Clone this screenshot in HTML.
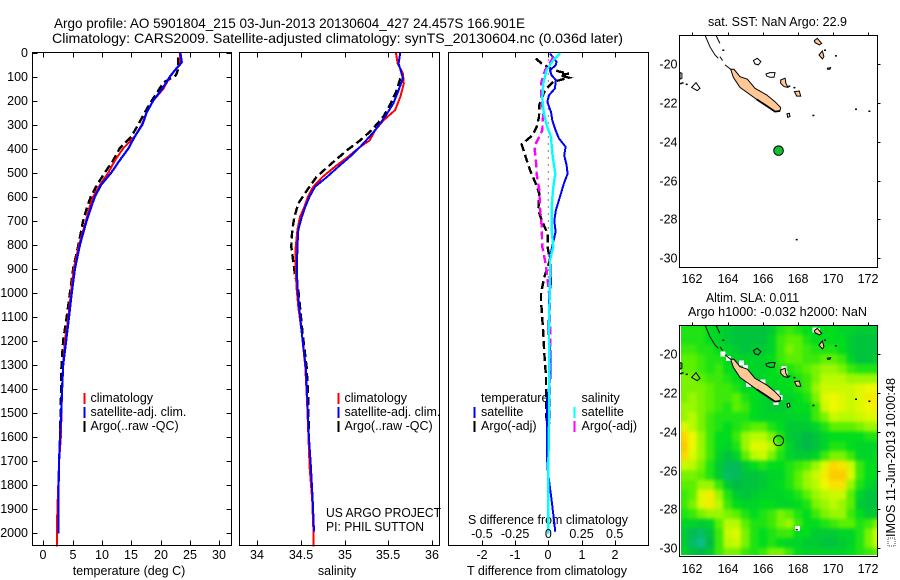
<!DOCTYPE html>
<html lang="en">
<head>
<meta charset="utf-8">
<title>Argo profile 5901804_215</title>
<style>
html,body{margin:0;padding:0;background:#fff;}
svg{display:block;}
text{font-family:"Liberation Sans",sans-serif;fill:#000;font-size:12.5px;}
</style>
</head>
<body>
<svg id="chart" xmlns="http://www.w3.org/2000/svg" width="900" height="580" viewBox="0 0 900 580">
<rect x="0" y="0" width="900" height="580" fill="#fff"/>
<defs>
<clipPath id="slaClip"><rect x="681" y="325" width="196.5" height="230"/></clipPath>
<filter id="slaBlur" x="-5%" y="-5%" width="110%" height="110%" color-interpolation-filters="sRGB"><feGaussianBlur stdDeviation="1.8"/></filter>
</defs>
<rect x="681" y="325" width="196.5" height="230" fill="#10dc28"/>
<text x="54" y="28" textLength="471" lengthAdjust="spacingAndGlyphs" style="font-size:14px">Argo profile: AO 5901804_215 03-Jun-2013 20130604_427 24.457S 166.901E</text>
<text x="52" y="43" textLength="571" lengthAdjust="spacingAndGlyphs" style="font-size:14px">Climatology: CARS2009. Satellite-adjusted climatology: synTS_20130604.nc (0.036d later)</text>
<text x="129" y="575" text-anchor="middle">temperature (deg C)</text>
<text x="337" y="575" text-anchor="middle">salinity</text>
<text x="467" y="575" textLength="160" lengthAdjust="spacingAndGlyphs">T difference from climatology</text>
<text x="468" y="524" textLength="160" lengthAdjust="spacingAndGlyphs">S difference from climatology</text>
<text x="326" y="517" textLength="115" lengthAdjust="spacingAndGlyphs">US ARGO PROJECT</text>
<text x="326" y="531" textLength="98" lengthAdjust="spacingAndGlyphs">PI: PHIL SUTTON</text>
<text x="708" y="26" textLength="139" lengthAdjust="spacingAndGlyphs">sat. SST: NaN Argo: 22.9</text>
<text x="706" y="302" textLength="93" lengthAdjust="spacingAndGlyphs">Altim. SLA: 0.011</text>
<text x="688" y="316" textLength="179" lengthAdjust="spacingAndGlyphs">Argo h1000: -0.032 h2000: NaN</text>
<rect x="888" y="538" width="7" height="8" fill="#fff" stroke="#444" stroke-width="1" stroke-dasharray="1 1"/>
<text transform="translate(895,537) rotate(-90)" textLength="159" lengthAdjust="spacingAndGlyphs">IMOS 11-Jun-2013 10:00:48</text>
</svg>
<script>
// Temperature panel data (depth in m, temperature in deg C)
const tempClimDepth=[0,50,75,100,150,200,250,300,350,400,450,500,550,600,650,700,800,900,1000,1100,1200,1300,1400,1500,1600,1700,1800,1900,2000,2058];
const tempClim=[23.3,23.3,22.4,21.6,20.5,18.75,17.6,16.8,15.6,13.6,12.2,11.1,9.7,8.5,7.8,7.3,6.1,5.2,4.7,4.3,3.7,3.4,3.2,3.1,3.0,2.7,2.55,2.4,2.3,2.3];
const tempSatDepth=[0,40,50,75,100,150,200,250,300,350,400,450,500,550,600,650,700,800,900,1000,1100,1200,1300,1400,1500,1600,1700,1800,1900,2005];
const tempSat=[23.35,23.6,23.3,22.4,21.6,20.3,18.75,17.6,16.9,15.6,14.5,13,11.6,9.9,8.8,8.1,7.4,6.25,5.4,4.85,4.4,3.9,3.4,3.2,3.05,2.85,2.7,2.6,2.6,2.6];
const tempArgoDepth=[20,50,75,95,125,200,250,300,350,400,450,500,550,600,650,700,800,900,1000,1100,1200,1300,1400,1500,1600];
const tempArgo=[23.0,23.0,22.9,22.6,20.5,18.5,17.3,16.2,15,13,11.9,10.5,9.2,8.1,7.4,6.8,6,5.1,4.55,4,3.4,3.1,3.05,2.95,2.85];
// Salinity panel data
const salClimDepth=[0,46,88,129,185,240,282,324,366,393,435,476,518,560,601,643,685,740,810,893,977,1060,1170,1310,1448,1587,1726,1865,2004,2058];
const salClim=[35.59,35.61,35.67,35.68,35.64,35.58,35.45,35.35,35.29,35.18,35.04,34.89,34.75,34.64,34.58,34.54,34.49,34.46,34.44,34.44,34.45,34.47,34.51,34.55,34.57,34.585,34.6,34.63,34.645,34.645];
const salSatDepth=[0,46,88,108,157,213,268,324,366,393,435,476,518,560,601,643,685,740,810,893,977,1060,1170,1310,1448,1587,1726,1865,1995];
const salSat=[35.64,35.62,35.655,35.67,35.62,35.56,35.465,35.35,35.25,35.18,35.06,34.93,34.8,34.66,34.6,34.55,34.51,34.47,34.46,34.455,34.46,34.48,34.51,34.555,34.575,34.59,34.615,34.635,34.65];
const salArgoDepth=[108,157,213,268,324,366,407,463,518,574,629,685,740,810,866,921,990,1170,1310,1448,1587];
const salArgo=[35.64,35.6,35.53,35.445,35.31,35.18,35.03,34.85,34.68,34.57,34.47,34.425,34.4,34.39,34.41,34.43,34.47,34.52,34.565,34.585,34.59];
// Difference panel data
const diffTSatDepth=[4,39,53,74,95,115,150,178,206,248,282,324,358,393,428,470,505,546,602,657,699,747,789,851,921,962,1018,1032,1171,1254,1351,1449,1587,1726,1782,1865,1935,1997];
const diffTSat=[0.05,0.25,0.22,0.05,0.1,0.23,0.2,0.02,-0.03,0.08,0.12,0.22,0.32,0.52,0.48,0.55,0.58,0.47,0.35,0.23,0.18,0.22,0.15,0.05,0.07,0.08,0.02,0.02,0.01,0.07,0.07,-0.04,-0.04,-0.03,0.02,0.1,0.16,0.21];
const diffTArgoDepth=[25,46,71,80,88,95,105,122,157,219,268,310,345,383,435,490,546,588,657,699,755,810,866,936,1005,1032,1171,1254,1351,1449,1546];
const diffTArgo=[-0.38,-0.2,0.12,0.35,0.62,0.35,0.62,0.15,-0.1,-0.27,-0.28,-0.35,-0.48,-0.8,-0.68,-0.55,-0.38,-0.27,-0.3,-0.2,-0.02,-0.02,0.05,-0.12,-0.22,-0.22,-0.15,-0.12,-0.07,-0.07,-0.05];
const diffSSatDepth=[4,32,74,129,192,248,303,351,421,505,560,643,740,810,866,949,1060,1171,1449,1726,2004];
const diffSSat=[0.088,0.038,-0.013,-0.038,-0.045,-0.035,-0.013,0.02,0.03,0.053,0.038,0.025,0.025,0.038,0.013,0.013,0.008,0.005,0.008,0,0];
const diffSArgoDepth=[18,74,129,192,248,324,393,449,505,574,643,726,810,851,907,1018,1171,1379,1546];
const diffSArgo=[0.04,-0.025,-0.055,-0.055,-0.038,-0.045,-0.105,-0.093,-0.088,-0.068,-0.063,-0.05,-0.045,-0.03,-0.013,0.008,0.015,0.01,0.012];
// Axis tick labels
const depthTicks=[0,100,200,300,400,500,600,700,800,900,1000,1100,1200,1300,1400,1500,1600,1700,1800,1900,2000];
const tempTicks=[0,5,10,15,20,25,30];
const salTicks=[34,34.5,35,35.5,36];
const salTickLabels=["34","34.5","35","35.5","36"];
const tDiffTicks=[-2,-1,0,1,2];
const sDiffTicks=[-0.5,-0.25,0,0.25,0.5];
const lonTicks=[162,164,166,168,170,172];
const latTicks=[-20,-22,-24,-26,-28,-30];
// Profile position and map data
const argoLon=166.901;
const argoLat=-24.457;
// Sea level anomaly (cm) on a half-degree grid, north to south, west to east
const slaRows=[
[1,1,1,0,-1,-2,-3,-3,-3,-3,-2,1,2,1,0,0,0,0,-1,-1,-2,-2,-2],
[1,1,1,0,-1,-2,-3,-3,-3,-3,-1,2,3,3,1,0,0,0,0,-2,-3,-3,-3],
[2,2,1,1,0,-1,-2,-3,-2,-2,-1,2,4,3,2,1,1,1,0,-2,-3,-3,-3],
[3,3,2,1,1,0,-1,-1,-1,-1,0,2,3,3,2,2,3,3,2,-1,-3,-3,-2],
[3,3,2,1,2,0,0,0,-1,-1,0,1,1,2,3,4,5,5,4,2,1,1,1],
[4,4,3,2,2,1,0,-1,-1,-1,0,0,0,1,2,4,6,6,6,5,5,5,5],
[4,4,4,3,2,2,1,-1,0,-1,-1,0,0,1,2,5,7,7,7,7,8,9,9],
[4,5,4,3,2,2,3,1,0,-1,-2,-1,-1,0,1,4,8,9,8,7,8,10,10],
[5,5,4,3,2,1,3,2,0,-1,-2,-2,-1,0,0,2,7,9,8,7,8,9,10],
[5,6,4,2,1,1,1,1,0,-1,-1,-1,-1,-1,-1,2,4,7,6,6,7,8,8],
[8,6,4,2,1,0,1,2,3,3,1,0,-2,-2,-2,-1,1,3,3,3,4,5,5],
[12,9,5,2,0,0,2,5,6,6,4,1,-2,-3,-4,-3,-1,0,0,0,0,1,1],
[13,9,5,2,0,-1,1,5,8,8,6,2,-1,-3,-4,-3,-1,1,1,0,-1,-1,-1],
[12,8,5,2,-1,-3,-1,3,6,7,4,1,-1,-2,-2,-1,2,4,4,2,-1,-1,0],
[7,6,4,1,-2,-5,-5,-2,0,1,0,0,1,2,3,5,8,12,11,7,2,0,0],
[4,4,3,1,-2,-6,-5,-3,-3,-2,-1,-1,1,3,5,7,10,13,13,8,2,0,0],
[3,3,5,5,2,-2,-4,-3,-3,-2,-1,0,1,3,5,6,9,11,11,5,1,-1,-2],
[2,3,8,10,5,1,-2,-3,-2,-1,-1,-1,0,1,3,5,6,7,7,3,-1,-3,-3],
[2,4,8,10,6,2,0,-1,-1,0,0,-1,-1,0,1,4,5,6,5,3,-2,-3,-3],
[1,2,4,5,5,4,3,1,0,1,2,4,3,1,0,2,4,5,5,2,0,-2,-2],
[-1,-1,-2,-1,3,6,6,3,1,1,2,4,5,2,0,0,1,2,3,3,1,2,4],
[-2,-5,-6,-3,2,7,8,4,1,0,1,2,2,0,0,-2,-2,-2,-1,-1,1,4,7],
[-2,-6,-8,-4,2,6,7,4,1,0,1,0,-1,-1,-2,-2,-3,-3,-2,-1,1,4,7],
[-1,-3,-4,-2,2,4,4,2,1,2,4,4,2,0,-1,-1,-1,-1,-1,0,1,2,3]
];
const missingCells=[[163.74,-19.98],[164.06,-20.22],[164.8,-20.46],[165.01,-20.69],[165.2,-21.55],[166.03,-21.43],[166.81,-22.0],[166.98,-22.22],[166.75,-22.5],[167.21,-20.74],[167.28,-20.98],[169.1,-18.76],[168.97,-18.74],[167.98,-29.0]];
const landIslands=[
[[164.18,-20.26],[164.37,-20.26],[164.71,-20.64],[165.13,-20.77],[165.56,-21.24],[166.22,-21.58],[166.7,-21.93],[167.02,-22.24],[166.98,-22.41],[166.7,-22.44],[166.22,-22.15],[165.66,-21.81],[165.18,-21.5],[164.71,-21.19],[164.33,-20.67]],
[[167.02,-20.81],[167.27,-20.72],[167.32,-20.98],[167.44,-21.19],[167.21,-21.15],[167.02,-20.98]],
[[167.8,-21.41],[168.08,-21.38],[168.16,-21.64],[167.93,-21.64]],
[[167.38,-22.56],[167.51,-22.53],[167.55,-22.7],[167.42,-22.74]],
[[168.93,-18.78],[169.1,-18.66],[169.35,-18.92],[169.22,-19.0],[168.97,-18.88]],
[[169.2,-19.52],[169.39,-19.31],[169.48,-19.6],[169.39,-19.72]],
[[169.67,-20.2],[169.86,-20.17],[169.82,-20.26],[169.69,-20.26]]
];
const reefOutlines=[
[[165.47,-19.81],[165.69,-19.69],[165.9,-19.86],[165.75,-20.03],[165.56,-19.98]],
[[161.96,-21.19],[162.21,-20.95],[162.44,-21.24],[162.28,-21.36]],
[[166.19,-20.5],[166.41,-20.43],[166.7,-20.43],[166.64,-20.67],[166.41,-20.67],[166.22,-20.6]],
[[161.3,-20.43],[161.41,-20.46],[161.41,-20.72],[161.3,-20.77]]
];
const coastLines=[
[[162.72,-18.49],[163.0,-19.09],[163.29,-19.52],[163.48,-19.69]],
[[163.34,-18.49],[163.57,-18.92]],
[[163.57,-19.6],[163.72,-19.81]],
[[163.86,-20.03],[164.23,-20.29]]
];
const southCoast=[[165.66,-21.81],[166.22,-22.15],[166.7,-22.44],[166.98,-22.41]];
const smallIslets=[[163.76,-19.26],[169.54,-19.26],[170.16,-19.55],[168.88,-22.63],[171.3,-22.31],[172.06,-22.41],[167.93,-29.04],[167.51,-21.12],[167.8,-21.19],[161.68,-21.02],[161.34,-20.98],[161.45,-20.95]];
const legendProfile=["climatology","satellite-adj. clim.","Argo(..raw -QC)"];
const legendTemperature=["temperature","satellite","Argo(-adj)"];
const legendSalinity=["salinity","satellite","Argo(-adj)"];

const NS="http://www.w3.org/2000/svg";
const svg=document.getElementById("chart");
function mk(tag,attrs){const e=document.createElementNS(NS,tag);for(const k in attrs)e.setAttribute(k,attrs[k]);svg.appendChild(e);return e;}
function txt(s,x,y,anchor){const e=mk("text",{x:x,y:y,"text-anchor":anchor||"start"});e.textContent=s;return e;}
// Axis functions
const yDepth=d=>52.5+0.24*d;
const xTemp=t=>43.3+5.867*t;
const xSal=s=>257.3+87.2*(s-34);
const xTDiff=t=>548.3+33.2*t;
const xSDiff=s=>548.3+132.8*s;
const mapX=lon=>692.3+17.6*(lon-162);
const mapY=(lat,top)=>top+(-20-lat)*19.37;
const MAP1=64.3,MAP2=354.3;

function profile(depths,vals,xf,color,width,dash,name){
  const pts=vals.map((v,i)=>xf(v).toFixed(1)+","+yDepth(depths[i]).toFixed(1)).join(" ");
  const a={points:pts,fill:"none",stroke:color,"stroke-width":width,"shape-rendering":"crispEdges"};
  if(dash)a["stroke-dasharray"]=dash;
  return mk("polyline",a);
}
function box(x0,y0,x1,y1){return mk("rect",{x:x0,y:y0,width:x1-x0,height:y1-y0,fill:"none",stroke:"#000","stroke-width":1,"shape-rendering":"crispEdges"});}
function seg(x1,y1,x2,y2){return mk("line",{x1:x1,y1:y1,x2:x2,y2:y2,stroke:"#000","stroke-width":1,"shape-rendering":"crispEdges"});}

// Temperature panel
let el;
el=profile(tempArgoDepth,tempArgo,xTemp,"#000",2.4,"8 4");


el=profile(tempClimDepth,tempClim,xTemp,"#f00",2);


el=profile(tempSatDepth,tempSat,xTemp,"#00f",2.2);


el=box(32.5,52.5,231.5,545.5);


depthTicks.forEach(d=>{
  const y=Math.round(yDepth(d))+0.5;
  let t=seg(32.5,y,37.5,y);
  
  
  t=seg(226.5,y,231.5,y);
  
  
  t=txt(String(d),28,y+3.5,"end");
  
  
});
function xTicks(vals,xf,labels,x0,baseline,name){
  vals.forEach((v,i)=>{
    const x=Math.round(xf(v))+0.5;
    let t=seg(x,52.5,x,57.5);
    
    
    t=seg(x,540.5,x,545.5);
    
    
    t=txt(labels[i],x-0.5,baseline,"middle");
    
    
  });
}
xTicks(tempTicks,xTemp,tempTicks.map(String),0,559,'temperature');

// Salinity panel
el=profile(salArgoDepth,salArgo,xSal,"#000",2.4,"8 4");


el=profile(salClimDepth,salClim,xSal,"#f00",2);


el=profile(salSatDepth,salSat,xSal,"#00f",2);


el=box(239.5,52.5,439.5,545.5);


xTicks(salTicks,xSal,salTickLabels,0,559,'salinity');

// Difference panel
el=mk("line",{x1:xTDiff(0),y1:yDepth(0),x2:xTDiff(0),y2:yDepth(950),stroke:"#000","stroke-width":1,"stroke-dasharray":"1 6"});


el=profile(diffTArgoDepth,diffTArgo,xTDiff,"#000",2.4,"8 4");


el=profile(diffTSatDepth,diffTSat,xTDiff,"#00f",2);


el=profile(diffSArgoDepth,diffSArgo,xSDiff,"#f0f",2.4,"8 4");


el=profile(diffSSatDepth,diffSSat,xSDiff,"#0ff",2.4);


el=box(448.5,52.5,648.5,545.5);


xTicks(tDiffTicks,xTDiff,tDiffTicks.map(v=>v<0?"-"+Math.abs(v):String(v)),0,559,'t-difference');
sDiffTicks.forEach(v=>{
  const t=txt(String(v),xSDiff(v),538,"middle");
  
  
});

// Legends
function legend(barX,textX,labels,colors,startRow,group){
  labels.forEach((s,i)=>{
    const row=startRow+i;
    const base=402+14*row;
    if(colors[i]){
      const b=mk("rect",{x:barX,y:base-9,width:2,height:11,fill:colors[i],"shape-rendering":"crispEdges"});
      
      
    }
    const t=txt(s,textX,base);
    
    
  });
}
legend(83.5,90.5,legendProfile,["#f00","#00f","#000"],0,'temperature-panel');
legend(337.5,344.5,legendProfile,["#f00","#00f","#000"],0,'salinity-panel');
legend(473.5,481,legendTemperature,[null,"#00f","#000"],0,'temperature-difference');
legend(573.5,581.5,legendSalinity,[null,"#0ff","#f0f"],0,'salinity-difference');

// SLA colour scale
const slaStops=[[-9,[16,190,150]],[-4,[0,186,72]],[0,[0,220,30]],[3,[90,240,0]],[6,[184,250,0]],[9,[238,248,0]],[12,[252,216,0]],[15,[252,176,0]]];
function slaColor(v){
  for(let i=1;i<slaStops.length;i++){
    if(v<=slaStops[i][0]){
      const a=slaStops[i-1],b=slaStops[i],f=Math.max(0,(v-a[0])/(b[0]-a[0]));
      return "rgb("+a[1].map((c,k)=>Math.round(c+(b[1][k]-c)*f)).join(",")+")";
    }
  }
  return "rgb(252,176,0)";
}
// Heatmap cells
const cellClip=mk("g",{"clip-path":"url(#slaClip)"});


const cellGroup=mk("g",{"filter":"url(#slaBlur)"});


cellClip.appendChild(cellGroup);
slaRows.forEach((row,r)=>{
  row.forEach((v,c)=>{
    const lon=161.26+0.5*c,lat=-18.49-0.5*r;
    const x=mapX(lon),y=mapY(lat,MAP2);
    const cell=mk("rect",{x:x.toFixed(1),y:y.toFixed(1),width:9.3,height:10.2,fill:slaColor(v)});
    
    
    cellGroup.appendChild(cell);
  });
});
missingCells.forEach(p=>{
  const m=mk("rect",{x:(mapX(p[0])-2.5).toFixed(1),y:(mapY(p[1],MAP2)-2.5).toFixed(1),width:5,height:5,fill:"#fff","shape-rendering":"crispEdges"});
  
  
});
function pts(a,top){return a.map(p=>mapX(p[0]).toFixed(1)+","+mapY(p[1],top).toFixed(1)).join(" ");}
function drawMap(top,bottom,prefix,labelBase){
  landIslands.forEach(poly=>{
    const e=mk("polygon",{points:pts(poly,top),fill:"#ffc896",stroke:"#000","stroke-width":1});
    
    
  });
  const sc=mk("polyline",{points:pts(southCoast,top),fill:"none",stroke:"#000","stroke-width":1.8});
  
  
  reefOutlines.forEach(poly=>{
    const e=mk("polygon",{points:pts(poly,top),fill:"none",stroke:"#000","stroke-width":1});
    
    
  });
  coastLines.forEach(line=>{
    const e=mk("polyline",{points:pts(line,top),fill:"none",stroke:"#000","stroke-width":1});
    
    
  });
  smallIslets.forEach(p=>{
    const e=mk("rect",{x:(mapX(p[0])-1).toFixed(1),y:(mapY(p[1],top)-0.5).toFixed(1),width:2,height:1.5,fill:"#000"});
    
    
  });
  const frameTop=top-29.8;
  const b=box(679.5,Math.round(frameTop)+0.5,877.5,bottom);
  
  
  lonTicks.forEach(v=>{
    const x=Math.round(mapX(v))+0.5;
    let t=seg(x,Math.round(frameTop)+0.5,x,Math.round(frameTop)-2.5);
    
    
    t=txt(String(v),x-0.5,labelBase,"middle");
    
    
  });
  latTicks.forEach(v=>{
    const y=Math.round(mapY(v,top))+0.5;
    let t=seg(877.5,y,880.5,y);
    
    
    t=txt(String(v),677.5,y+4,"end");
    
    
  });
}
drawMap(MAP1,267.5,'sst-map',283);
drawMap(MAP2,556.5,'sla-map',573);
el=mk("circle",{cx:mapX(argoLon),cy:mapY(argoLat,MAP1),r:4.8,fill:"#10c030",stroke:"#000","stroke-width":1});


el=mk("circle",{cx:mapX(argoLon),cy:mapY(argoLat,MAP2),r:5,fill:"none",stroke:"#000","stroke-width":1});


</script>
</body>
</html>
